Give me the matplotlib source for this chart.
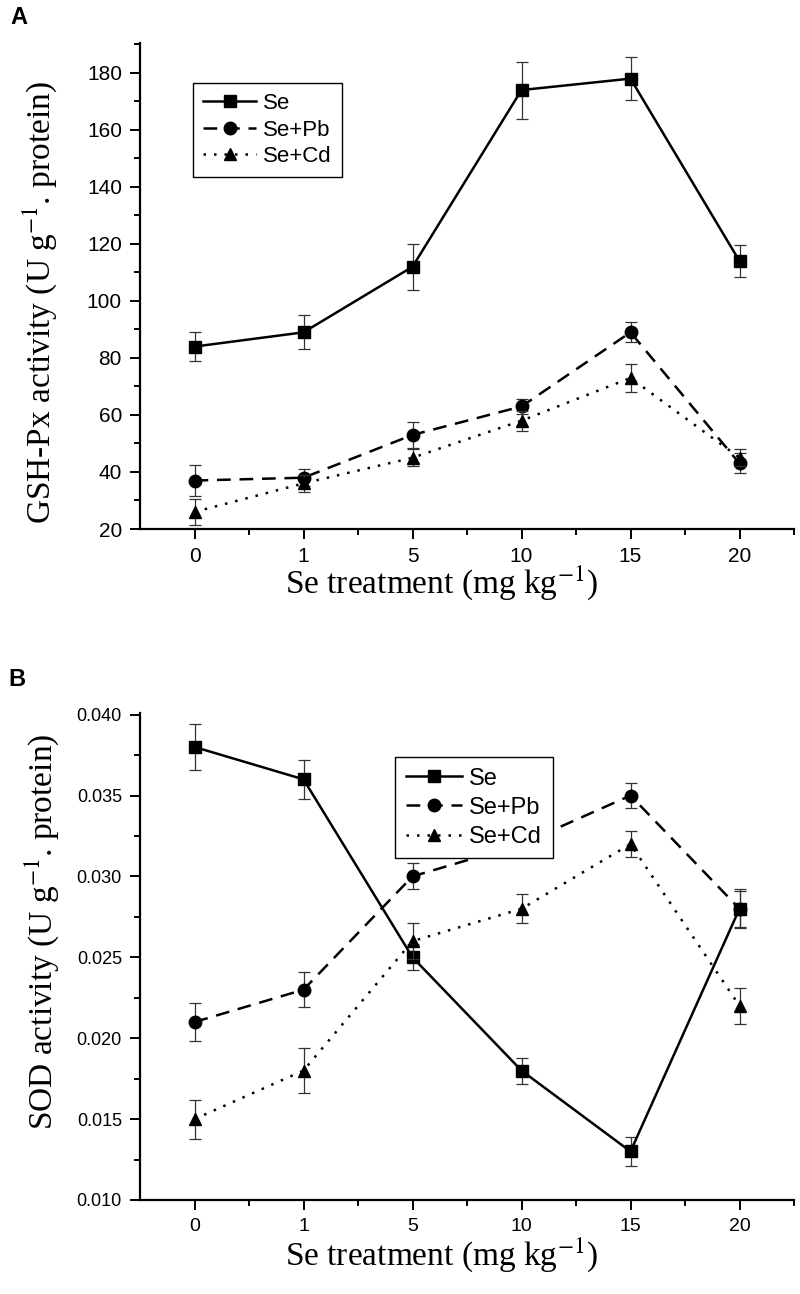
import matplotlib
matplotlib.use("Agg")
import matplotlib.pyplot as plt
import numpy as np
from matplotlib.ticker import MultipleLocator, FixedLocator

plt.rcParams["mathtext.fontset"] = "stix"

# treatment levels (categorical, evenly spaced)
treatments = ["0", "1", "5", "10", "15", "20"]

# Panel A: GSH-Px activity
gsh_se = [84, 89, 112, 174, 178, 114]
gsh_se_err = [5, 6, 8, 10, 7.5, 5.5]
gsh_pb = [37, 38, 53, 63, 89, 43]
gsh_pb_err = [5.5, 3, 4.5, 2.5, 3.5, 3.5]
gsh_cd = [26, 36, 45, 58, 73, 45]
gsh_cd_err = [4.5, 3, 3, 3.5, 5, 3]

# Panel B: SOD activity
sod_se = [0.038, 0.036, 0.025, 0.018, 0.013, 0.028]
sod_se_err = [0.0014, 0.0012, 0.0008, 0.0008, 0.0009, 0.0012]
sod_pb = [0.021, 0.023, 0.030, 0.032, 0.035, 0.028]
sod_pb_err = [0.0012, 0.0011, 0.0008, 0.0007, 0.0008, 0.0011]
sod_cd = [0.015, 0.018, 0.026, 0.028, 0.032, 0.022]
sod_cd_err = [0.0012, 0.0014, 0.0011, 0.0009, 0.0008, 0.0011]

SANS = "Liberation Sans"
SERIF = "Liberation Serif"
W, H = 800, 1294

fig = plt.figure(figsize=(W / 100, H / 100), dpi=100)


def box(x0, y0, x1, y1):
    # pixel box (top-left origin) -> figure fraction rect
    return [x0 / W, 1 - y1 / H, (x1 - x0) / W, (y1 - y0) / H]


def draw(ax, series, xfs, yfs):
    x = np.arange(len(treatments))
    styles = [("Se", "-", "s"), ("Se+Pb", (0, (5.5, 3.5)), "o"), ("Se+Cd", (0, (1, 3.2)), "^")]
    for (lab, ls, mk), (y, e) in zip(styles, series):
        ax.errorbar(x, y, yerr=e, fmt="none", ecolor="#333333", elinewidth=0.9,
                    capsize=4, capthick=0.9)
        ax.plot(x, y, color="black", linestyle=ls, linewidth=1.8,
                marker=mk, markersize=9, label=lab)
    ax.set_xlim(-0.5, 5.5)
    ax.set_xticks(x)
    ax.set_xticklabels(treatments)
    ax.xaxis.set_minor_locator(FixedLocator(np.arange(0.5, 6, 1)))
    for s in ("top", "right"):
        ax.spines[s].set_visible(False)
    for s in ("left", "bottom"):
        ax.spines[s].set_linewidth(1.6)
    ax.tick_params(which="major", direction="out", length=7, width=1.4, pad=6)
    ax.tick_params(which="minor", direction="out", length=4, width=1.4)
    ax.tick_params(axis="x", labelsize=xfs)
    ax.tick_params(axis="y", labelsize=yfs)
    for t in ax.get_xticklabels() + ax.get_yticklabels():
        t.set_fontfamily(SANS)


def legend(ax, x_px, y_px, ax_box, fs, spacing):
    x0, y0, x1, y1 = ax_box
    leg = ax.legend(loc="upper left",
                    bbox_to_anchor=((x_px - x0) / (x1 - x0), 1 - (y_px - y0) / (y1 - y0)),
                    borderaxespad=0, frameon=True, fancybox=False, edgecolor="black",
                    framealpha=1, prop={"family": SANS, "size": fs}, handlelength=2.4,
                    borderpad=0.45, labelspacing=spacing, handletextpad=0.3)
    leg.get_frame().set_linewidth(1.0)


# ---- Panel A
boxA = (140, 43, 794, 529)
axA = fig.add_axes(box(*boxA))
draw(axA, [(gsh_se, gsh_se_err), (gsh_pb, gsh_pb_err), (gsh_cd, gsh_cd_err)], 15, 15)
axA.set_ylim(20, 190.5)
axA.yaxis.set_major_locator(FixedLocator(np.arange(20, 181, 20)))
axA.yaxis.set_minor_locator(MultipleLocator(10))
legend(axA, 193, 83, boxA, 16, 0.25)

# ---- Panel B
boxB = (140, 713, 794, 1200)
axB = fig.add_axes(box(*boxB))
draw(axB, [(sod_se, sod_se_err), (sod_pb, sod_pb_err), (sod_cd, sod_cd_err)], 14, 13)
axB.set_ylim(0.010, 0.0401)
axB.yaxis.set_major_locator(FixedLocator(np.arange(0.010, 0.0401, 0.005)))
axB.yaxis.set_minor_locator(MultipleLocator(0.0025))
axB.set_yticklabels([f"{v:.3f}" for v in np.arange(0.010, 0.0401, 0.005)], family=SANS)
legend(axB, 395, 757, boxB, 17, 0.3)

# ---- labels
fig.text(10 / W, 1 - 18 / H, "A", fontfamily=SANS, fontweight="bold", fontsize=17,
         ha="left", va="center")
fig.text(8 / W, 1 - 680 / H, "B", fontfamily=SANS, fontweight="bold", fontsize=17,
         ha="left", va="center")
xlab = "Se treatment (mg kg$^{-1}$)"
fig.text(441 / W, 1 - 583 / H, xlab, fontfamily=SERIF, fontsize=24,
         ha="center", va="center")
fig.text(441 / W, 1 - 1255 / H, xlab, fontfamily=SERIF, fontsize=24,
         ha="center", va="center")
fig.text(40 / W, 1 - 303 / H, "GSH-Px activity (U g$^{-1}$. protein)", fontfamily=SERIF,
         fontsize=24, rotation=90, ha="center", va="center")
fig.text(42 / W, 1 - 932 / H, "SOD activity (U g$^{-1}$. protein)", fontfamily=SERIF,
         fontsize=24, rotation=90, ha="center", va="center")

fig.savefig("out.png", dpi=100)
